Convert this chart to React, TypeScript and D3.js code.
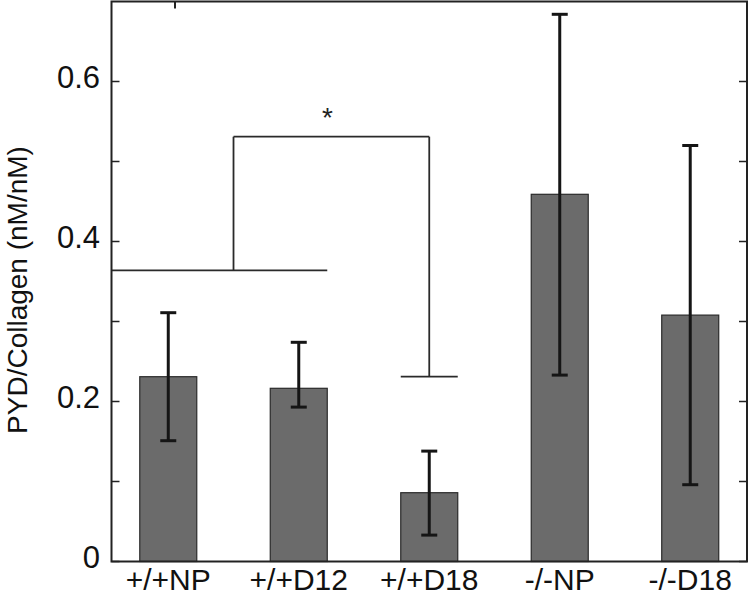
import React from "react";
import * as d3 from "d3";

const categories = ["+/+NP", "+/+D12", "+/+D18", "-/-NP", "-/-D18"];
const means = [0.231, 0.2165, 0.086, 0.459, 0.308];
const errUpper = [0.311, 0.274, 0.138, 0.684, 0.52];
const errLower = [0.151, 0.193, 0.033, 0.233, 0.096];
const tickValues = [0, 0.1, 0.2, 0.3, 0.4, 0.5, 0.6];
const tickLabels = ["0", "", "0.2", "", "0.4", "", "0.6"];
const groupLineValue = 0.364;
const bracketTopValue = 0.531;
const bracketCapValue = 0.231;

const W = 750;
const H = 596;
const left = 111.5;
const right = 747;
const top = 1.5;
const bottom = 561.5;
const barW = 57;
const FONT = "'Liberation Sans', Arial, Helvetica, sans-serif";

export default function App() {
  const x = d3.scalePoint<string>().domain(categories).range([left, right]).padding(0.435);
  const y = d3.scaleLinear().domain([0, 0.7]).range([bottom, top]);
  const cx = (c: string) => x(c) as number;
  const capW = 16;

  const bx1 = (cx(categories[0]) + cx(categories[1])) / 2;
  const bx2 = cx(categories[2]);
  const groupEnd = cx(categories[1]) + barW / 2;

  return (
    <svg width={W} height={H} style={{ position: "absolute", left: 0, top: 0, background: "#fff" }}>
      {/* bars */}
      {categories.map((c, i) => (
        <rect
          key={c}
          x={cx(c) - barW / 2}
          y={y(means[i])}
          width={barW}
          height={y(0) - y(means[i])}
          fill="#6b6b6b"
          stroke="#2a2a2a"
          strokeWidth={1.2}
        />
      ))}
      {/* error bars */}
      {categories.map((c, i) => (
        <g key={"e" + c} stroke="#151515" strokeWidth={3}>
          <line x1={cx(c)} x2={cx(c)} y1={y(errUpper[i])} y2={y(errLower[i])} />
          <line x1={cx(c) - capW / 2} x2={cx(c) + capW / 2} y1={y(errUpper[i])} y2={y(errUpper[i])} />
          <line x1={cx(c) - capW / 2} x2={cx(c) + capW / 2} y1={y(errLower[i])} y2={y(errLower[i])} />
        </g>
      ))}
      {/* significance bracket */}
      <g stroke="#2a2a2a" strokeWidth={1.8} fill="none">
        <line x1={left} x2={groupEnd} y1={y(groupLineValue)} y2={y(groupLineValue)} />
        <line x1={bx1} x2={bx1} y1={y(groupLineValue)} y2={y(bracketTopValue)} />
        <line x1={bx1} x2={bx2} y1={y(bracketTopValue)} y2={y(bracketTopValue)} />
        <line x1={bx2} x2={bx2} y1={y(bracketTopValue)} y2={y(bracketCapValue)} />
        <line x1={bx2 - barW / 2} x2={bx2 + barW / 2} y1={y(bracketCapValue)} y2={y(bracketCapValue)} />
      </g>
      <text x={(bx1 + bx2) / 2 - 4} y={y(bracketTopValue) - 10} fontFamily={FONT} fontSize={28} textAnchor="middle" fill="#222">*</text>
      {/* frame */}
      <rect x={left} y={top} width={right - left} height={bottom - top} fill="none" stroke="#222" strokeWidth={2} />
      {/* ticks */}
      {tickValues.map((v) => (
        <g key={"t" + v} stroke="#222" strokeWidth={1.5}>
          <line x1={left} x2={left + 8} y1={y(v)} y2={y(v)} />
          <line x1={right} x2={right - 8} y1={y(v)} y2={y(v)} />
        </g>
      ))}
      <line x1={175} x2={175} y1={top} y2={top + 7} stroke="#222" strokeWidth={2} />
      {/* tick labels */}
      {tickValues.map((v, i) =>
        tickLabels[i] ? (
          <text key={"l" + v} x={100} y={y(v) + 6} fontFamily={FONT} fontSize={31} textAnchor="end" fill="#111">
            {tickLabels[i]}
          </text>
        ) : null
      )}
      {categories.map((c) => (
        <text key={"x" + c} x={cx(c)} y={590} fontFamily={FONT} fontSize={30} textAnchor="middle" fill="#111">
          {c}
        </text>
      ))}
      <text
        transform={`translate(27, 290) rotate(-90)`}
        fontFamily={FONT}
        fontSize={28}
        textAnchor="middle"
        fill="#111"
      >
        PYD/Collagen (nM/nM)
      </text>
    </svg>
  );
}
